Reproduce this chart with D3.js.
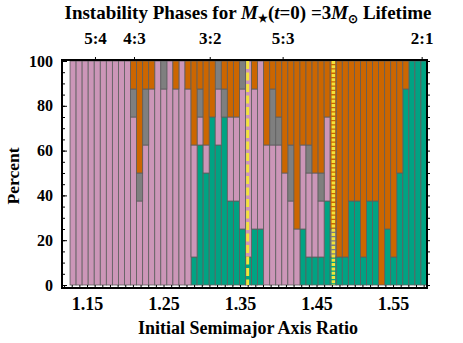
<!DOCTYPE html>
<html>
<head>
<meta charset="utf-8">
<script src="https://cdn.jsdelivr.net/npm/d3@7"></script>
<style>
  body { margin: 0; background: #fff; }
  svg { display: block; }
  text { font-family: "Liberation Serif", "Times New Roman", serif; font-weight: bold; fill: #000; }
</style>
</head>
<body>
<svg id="chart" width="463" height="343"></svg>
<script>
// percent of runs in each phase, per initial semimajor axis ratio bin (59 bins, left to right)
const green = [0,0,0,0,0,0,0,0,0,0, 0,0,0,0,0,0,0,0,0,0,
  12.5,62.5,50,75,62.5,75,37.5,37.5,25,12.5, 25,25,0,0,0,0,0,0,25,12.5,
  12.5,12.5,37.5,12.5,12.5,12.5,37.5,37.5,12.5,37.5, 37.5,0,25,12.5,50,87.5,100,100,100];
const pink = [100,100,100,100,100,100,100,100,100,100, 75,37.5,62.5,87.5,100,87.5,100,87.5,100,87.5,
  50,12.5,12.5,0,25,0,37.5,37.5,62.5,87.5, 62.5,75,62.5,62.5,62.5,50,37.5,25,37.5,37.5,
  37.5,25,37.5,0,0,0,0,0,0,0, 0,0,0,0,0,0,0,0,0];
const gray = [0,0,0,0,0,0,0,0,0,0, 12.5,12.5,25,0,0,12.5,0,0,0,0,
  0,12.5,0,0,12.5,12.5,0,0,12.5,0, 0,0,0,25,12.5,0,25,0,0,12.5,
  0,12.5,0,12.5,0,0,0,0,0,0, 0,0,0,0,0,0,0,0,0];
const orange = [0,0,0,0,0,0,0,0,0,0, 12.5,50,12.5,12.5,0,0,0,12.5,0,12.5,
  37.5,12.5,37.5,25,0,12.5,25,25,0,0, 12.5,0,37.5,12.5,25,50,37.5,75,37.5,37.5,
  50,50,25,75,87.5,87.5,62.5,62.5,87.5,62.5, 62.5,100,75,87.5,50,12.5,0,0,0];

const barRange = [1.1278, 1.5944];          // span covered by the bins
const xTicks = [1.15, 1.25, 1.35, 1.45, 1.55];
const yTicks = [0, 20, 40, 60, 80, 100];
const resonances = ["5:4", "4:3", "3:2", "5:3", "2:1"];
const resonanceAt = [1.1604, 1.2114, 1.3104, 1.4057, 1.5874];
const dashedAt = 1.36;   // yellow dashed marker
const dottedAt = 1.472;  // yellow dotted marker

const phases = ["green", "pink", "gray", "orange"];
const colors = { green: "#00a383", pink: "#cc96b8", gray: "#7f7f7f", orange: "#cc6600" };

const svg = d3.select("#chart");
const frame = { left: 62, right: 427, top: 60, bottom: 285 };

const x = d3.scaleLinear().domain([1.1173, 1.5944]).range([frame.left, frame.right]);
const y = d3.scaleLinear().domain([0, 100]).range([frame.bottom, frame.top + 1]);

const rows = green.map((g, i) => ({ i, green: g, pink: pink[i], gray: gray[i], orange: orange[i] }));
const band = d3.scaleBand()
  .domain(rows.map(d => d.i))
  .range([x(barRange[0]), x(barRange[1])])
  .padding(0);

const series = d3.stack().keys(phases)(rows);

// bars
svg.append("g")
  .selectAll("g")
  .data(series)
  .join("g")
  .attr("fill", d => colors[d.key])
  .selectAll("rect")
  .data(d => d.filter(s => s[1] > s[0]))
  .join("rect")
  .attr("x", d => band(d.data.i))
  .attr("width", band.bandwidth())
  .attr("y", d => y(d[1]))
  .attr("height", d => y(d[0]) - y(d[1]))
  .attr("stroke", "#5e5e5e")
  .attr("stroke-width", 0.8);

// marker lines
svg.append("line")
  .attr("x1", x(dashedAt)).attr("x2", x(dashedAt))
  .attr("y1", y(100)).attr("y2", y(0))
  .attr("stroke", "#f2e33a")
  .attr("stroke-width", 3)
  .attr("stroke-dasharray", "8,3.5");

svg.append("line")
  .attr("x1", x(dottedAt)).attr("x2", x(dottedAt))
  .attr("y1", y(100)).attr("y2", y(0))
  .attr("stroke", "#f2e33a")
  .attr("stroke-width", 3.5)
  .attr("stroke-dasharray", "3,1.3");

// frame
svg.append("rect")
  .attr("x", frame.left).attr("y", frame.top)
  .attr("width", frame.right - frame.left).attr("height", frame.bottom + 3 - frame.top)
  .attr("fill", "none")
  .attr("stroke", "#000")
  .attr("stroke-width", 2);

// left axis
svg.append("g")
  .attr("transform", `translate(${frame.left},0)`)
  .call(d3.axisLeft(y).tickValues(yTicks).tickSize(-5).tickPadding(9))
  .call(g => g.select(".domain").remove())
  .call(g => g.selectAll("text").attr("font-size", 16).attr("font-family", null));
svg.append("g")
  .attr("transform", `translate(${frame.left},0)`)
  .call(d3.axisLeft(y).tickValues(d3.range(0, 101, 5)).tickSize(-3).tickFormat(""))
  .call(g => g.select(".domain").remove());

// right axis ticks
svg.append("g")
  .attr("transform", `translate(${frame.right},0)`)
  .call(d3.axisRight(y).tickValues(d3.range(0, 101, 5)).tickSize(3).tickFormat(""))
  .call(g => g.select(".domain").remove());

// bottom axis
svg.append("g")
  .attr("transform", `translate(0,${frame.bottom + 3})`)
  .call(d3.axisBottom(x).tickValues(xTicks).tickSize(0).tickPadding(9)
    .tickFormat(d3.format(".2f")))
  .call(g => g.select(".domain").remove())
  .call(g => g.selectAll("text").attr("font-size", 18).attr("font-family", null));
svg.append("g")
  .attr("transform", `translate(0,${frame.bottom + 3})`)
  .call(d3.axisBottom(x).ticks(48).tickSize(-3).tickFormat(""))
  .call(g => g.select(".domain").remove());

// top axis with resonance labels
svg.append("g")
  .attr("transform", `translate(0,${frame.top})`)
  .call(d3.axisTop(x).tickValues(resonanceAt).tickSize(3).tickPadding(13)
    .tickFormat((d, i) => resonances[i]))
  .call(g => g.select(".domain").remove())
  .call(g => g.selectAll("text").attr("font-size", 17).attr("font-family", null));

// titles
const title = svg.append("text")
  .attr("x", 248).attr("y", 19)
  .attr("text-anchor", "middle")
  .attr("font-size", 19);
title.append("tspan").text("Instability Phases for ");
title.append("tspan").attr("font-style", "italic").text("M");
title.append("tspan").attr("font-size", 11).attr("dy", 3).text("\u2605");
title.append("tspan").attr("dy", -3).text("(");
title.append("tspan").attr("font-style", "italic").text("t");
title.append("tspan").text("=0) =3");
title.append("tspan").attr("font-style", "italic").text("M");
title.append("tspan").attr("font-size", 12).attr("dy", 4).text("\u2299");
title.append("tspan").attr("dy", -4).text(" Lifetime");

svg.append("text")
  .attr("x", 248).attr("y", 334)
  .attr("text-anchor", "middle")
  .attr("font-size", 18)
  .text("Initial Semimajor Axis Ratio");

svg.append("text")
  .attr("transform", "translate(19,176) rotate(-90)")
  .attr("text-anchor", "middle")
  .attr("font-size", 17.5)
  .text("Percent");
</script>
</body>
</html>
